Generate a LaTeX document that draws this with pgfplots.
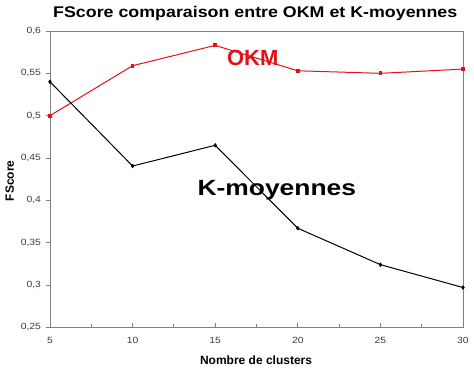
\documentclass[border=0pt]{standalone}
\usepackage{fontspec}
\setmainfont{Liberation Sans}
\newfontfamily\titlefont[FakeStretch=1.15]{Liberation Sans}
\newfontfamily\kmfont[FakeStretch=1.2]{Liberation Sans}
\usepackage{pgfplots}
\pgfplotsset{compat=1.18}
\definecolor{okmred}{RGB}{228,16,24}
\definecolor{axgray}{RGB}{128,128,128}
\definecolor{lblgray}{RGB}{60,60,60}
\begin{document}
\begin{tikzpicture}
\begin{axis}[
  scale only axis,
  width=413pt, height=296.3pt,
  xmin=5, xmax=30, ymin=0.25, ymax=0.6,
  xtick={5,10,...,30},
  minor x tick num=1,
  ytick={0.25,0.3,...,0.61},
  axis line style={axgray, line width=0.9pt},
  x tick style={axgray, line width=0.8pt},
  y tick style={axgray, line width=0.8pt},
  xtick align=inside,
  ytick align=outside,
  major tick length=4pt,
  minor tick length=3pt,
  xtick pos=bottom, ytick pos=left,
  /pgf/number format/assume math mode=true,
  /pgf/number format/use comma,
  ticklabel style={font=\fontsize{9}{10}\selectfont\titlefont, text=lblgray},
  yticklabel style={xshift=-1.5pt},
  xticklabel style={yshift=-6pt},
  every axis title shift=0pt,
  title={\titlefont\bfseries\fontsize{15.5}{17}\selectfont FScore comparaison entre OKM et K-moyennes},
  title style={at={(axis description cs:0.497,1)}, anchor=base, yshift=13.7pt, inner sep=0pt},
  xlabel={\bfseries\fontsize{12}{13}\selectfont Nombre de clusters},
  xlabel style={at={(axis description cs:0.499,-0.127)}, anchor=base, inner sep=0pt},
  ylabel={\bfseries\fontsize{12}{13}\selectfont FScore},
  ylabel style={at={(axis description cs:-0.0872,0.494)}, anchor=base, rotate=0, inner sep=0pt},
  clip=false,
]
\addplot[color=okmred, line width=1pt, mark=square*, mark size=1.4pt, mark options={solid}]
  coordinates {(5,0.500) (10,0.559) (15,0.583) (20,0.553) (25,0.550) (30,0.555)};
\addplot[color=black, line width=1pt, mark=diamond*, mark size=1.5pt, mark options={solid}]
  coordinates {(5,0.540) (10,0.4405) (15,0.465) (20,0.367) (25,0.324) (30,0.297)};
\node[anchor=base, text=okmred, inner sep=0pt, font=\bfseries\fontsize{22}{24}\selectfont] at (axis cs:17.27,0.5587) {OKM};
\node[anchor=base, text=black, inner sep=0pt, font=\kmfont\bfseries\fontsize{22}{24}\selectfont] at (axis cs:18.73,0.4054) {K-moyennes};
\end{axis}
\pgfresetboundingbox
\path[use as bounding box] ([shift={(-50pt,-43.7pt)}]current axis.south west) rectangle ([shift={(11pt,31pt)}]current axis.north east);
\end{tikzpicture}
\end{document}
